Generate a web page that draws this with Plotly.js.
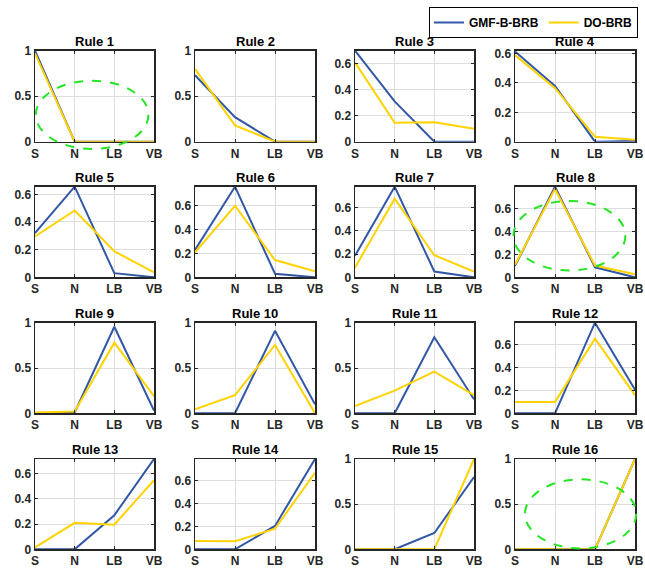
<!DOCTYPE html>
<html>
<head>
<meta charset="utf-8">
<script src="https://cdn.plot.ly/plotly-3.0.1.min.js"></script>
<style>html,body{margin:0;padding:0;background:#fff;}#chart{width:645px;height:569px;}</style>
</head>
<body>
<div id="chart"></div>
<script>
// ---- data ----
const categories = ['S', 'N', 'LB', 'VB'];
const ruleNames = ['Rule 1','Rule 2','Rule 3','Rule 4','Rule 5','Rule 6','Rule 7','Rule 8',
                   'Rule 9','Rule 10','Rule 11','Rule 12','Rule 13','Rule 14','Rule 15','Rule 16'];
const gmfBBRB = [
  [1, 0, 0, 0],
  [0.73, 0.27, 0, 0],
  [0.70, 0.31, 0, 0],
  [0.615, 0.38, 0, 0.005],
  [0.32, 0.655, 0.03, 0],
  [0.23, 0.76, 0.03, 0],
  [0.185, 0.78, 0.05, 0],
  [0.10, 0.795, 0.088, 0],
  [0, 0.01, 0.955, 0.03],
  [0, 0, 0.91, 0.10],
  [0, 0, 0.84, 0.155],
  [0, 0, 0.795, 0.207],
  [0, 0, 0.27, 0.715],
  [0, 0, 0.204, 0.79],
  [0, 0, 0.18, 0.80],
  [0, 0, 0, 1]
];
const doBRB = [
  [0.97, 0, 0, 0],
  [0.80, 0.18, 0, 0],
  [0.61, 0.145, 0.15, 0.10],
  [0.59, 0.365, 0.034, 0.014],
  [0.295, 0.483, 0.188, 0.036],
  [0.21, 0.60, 0.145, 0.05],
  [0.083, 0.677, 0.19, 0.05],
  [0.11, 0.775, 0.103, 0.026],
  [0.01, 0.02, 0.78, 0.19],
  [0.044, 0.20, 0.754, 0],
  [0.08, 0.25, 0.46, 0.20],
  [0.10, 0.10, 0.655, 0.16],
  [0.015, 0.21, 0.195, 0.547],
  [0.073, 0.07, 0.18, 0.67],
  [0, 0, 0, 1],
  [0, 0, 0, 1]
];
const seriesNames = ['GMF-B-BRB', 'DO-BRB'];
// axis upper limits per subplot
const yMax = [1, 1, 0.7, 0.62, 0.655, 0.76, 0.78, 0.795, 1, 1, 1, 0.795, 0.715, 0.79, 1, 1];
// highlighted regions (in each subplot's data units): [rule index, x0, x1, y0, y1]
const ellipses = [
  [0, 0.02, 2.86, -0.08, 0.67],
  [7, -0.04, 2.76, 0.06, 0.67],
  [15, 0.25, 3.03, 0.01, 0.775]
];

// ---- layout geometry (pixels) ----
const W = 645, H = 569;
const colPx = [[35, 154], [195, 315], [355, 474], [515, 635]];
const rowPx = [[50.7, 141.7], [186.7, 277.3], [322.7, 413.3], [459, 549.3]];
const FONT = 'Liberation Sans, Arial, Helvetica, sans-serif';
const blue = '#3257A6';
const yellow = '#FFD200';
const green = '#22E622';

const traces = [];
const layout = {
  width: W, height: H,
  margin: {l: 0, r: 0, t: 0, b: 0},
  paper_bgcolor: '#fff', plot_bgcolor: '#fff',
  font: {family: FONT, size: 12, color: '#262626'},
  showlegend: true,
  legend: {
    orientation: 'h', x: 638 / W, xanchor: 'right', y: 1 - 7 / H, yanchor: 'top',
    bordercolor: '#000', borderwidth: 1, bgcolor: '#fff',
    font: {family: FONT, size: 12, color: '#000', weight: 'bold'},
    itemwidth: 30, tracegroupgap: 0
  },
  annotations: [],
  shapes: []
};

function domX(c) { return [colPx[c][0] / W, colPx[c][1] / W]; }
function domY(r) { return [1 - rowPx[r][1] / H, 1 - rowPx[r][0] / H]; }

for (let i = 0; i < 16; i++) {
  const r = Math.floor(i / 4), c = i % 4;
  const n = i + 1;
  const xa = 'xaxis' + (n === 1 ? '' : n);
  const ya = 'yaxis' + (n === 1 ? '' : n);
  const xr = 'x' + (n === 1 ? '' : n);
  const yr = 'y' + (n === 1 ? '' : n);
  const dt = yMax[i] >= 0.95 ? 0.5 : 0.2;
  layout[xa] = {
    domain: domX(c), anchor: yr, type: 'category', range: [0, 3],
    categoryorder: 'array', categoryarray: categories,
    showline: true, linecolor: '#262626', linewidth: 1.5, mirror: 'ticks',
    ticks: 'inside', ticklen: 3, tickcolor: '#262626', tickwidth: 1,
    showgrid: true, gridcolor: '#DEDEDE', gridwidth: 1, zeroline: false,
    tickfont: {family: FONT, size: 12, color: '#262626', weight: 'bold'},
    fixedrange: true
  };
  layout[ya] = {
    domain: domY(r), anchor: xr, range: [0, yMax[i]],
    tick0: 0, dtick: dt,
    showline: true, linecolor: '#262626', linewidth: 1.5, mirror: 'ticks',
    ticks: 'inside', ticklen: 3, tickcolor: '#262626', tickwidth: 1,
    showgrid: true, gridcolor: '#DEDEDE', gridwidth: 1, zeroline: false,
    tickfont: {family: FONT, size: 12, color: '#262626', weight: 'bold'},
    fixedrange: true
  };
  traces.push({
    type: 'scatter', mode: 'lines', x: categories, y: gmfBBRB[i],
    xaxis: xr, yaxis: yr, name: seriesNames[0], legendgroup: 'g',
    showlegend: i === 0, line: {color: blue, width: 2}
  });
  traces.push({
    type: 'scatter', mode: 'lines', x: categories, y: doBRB[i],
    xaxis: xr, yaxis: yr, name: seriesNames[1], legendgroup: 'd',
    showlegend: i === 0, line: {color: yellow, width: 2}
  });
  layout.annotations.push({
    text: ruleNames[i], showarrow: false,
    xref: xr + ' domain', yref: yr + ' domain', x: 0.5, y: 1,
    xanchor: 'center', yanchor: 'bottom', yshift: 0,
    font: {family: FONT, size: 13, color: '#000', weight: 'bold'}
  });
}

// ellipses mapped from subplot data units to paper
ellipses.forEach(function (e) {
  const i = e[0], r = Math.floor(i / 4), c = i % 4;
  const dx = domX(c), dy = domY(r);
  const px = v => dx[0] + (v / 3) * (dx[1] - dx[0]);
  const py = v => dy[0] + (v / yMax[i]) * (dy[1] - dy[0]);
  layout.shapes.push({
    type: 'circle', xref: 'paper', yref: 'paper', layer: 'above',
    x0: px(e[1]), x1: px(e[2]), y0: py(e[3]), y1: py(e[4]),
    line: {color: green, width: 2, dash: 'dash'}
  });
});

Plotly.newPlot('chart', traces, layout, {staticPlot: true, displayModeBar: false});
</script>
</body>
</html>
